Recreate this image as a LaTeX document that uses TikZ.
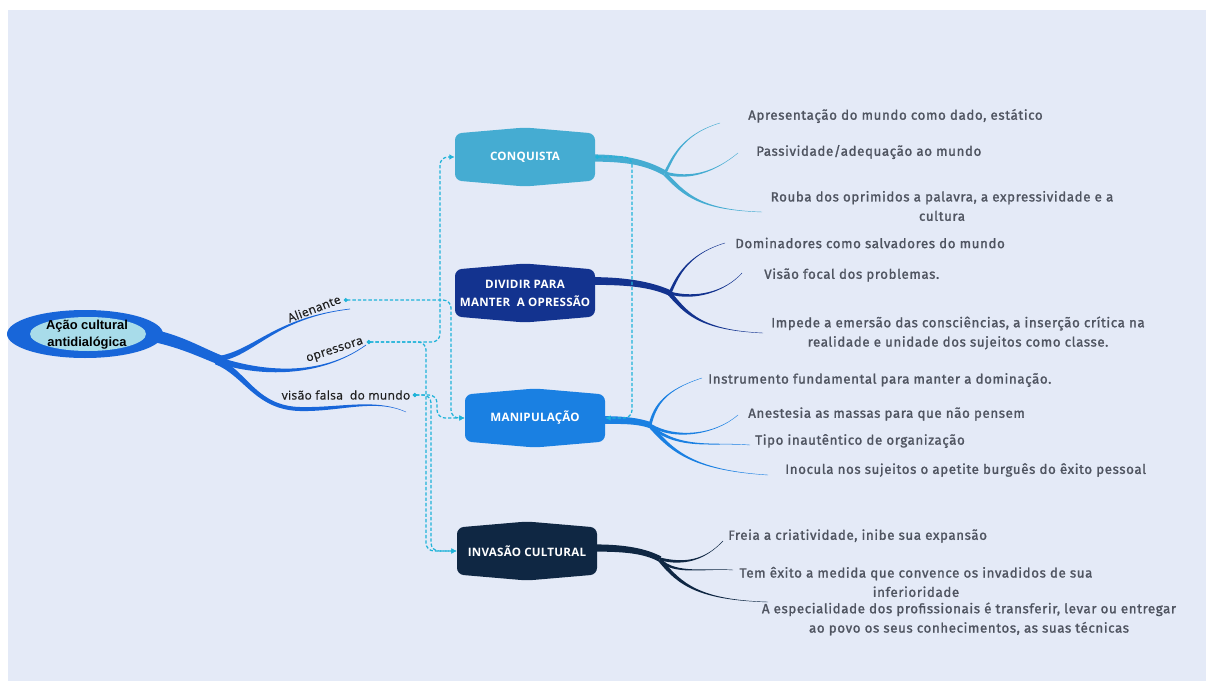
\documentclass[tikz,border=0pt]{standalone}
\usepackage{fontspec}
\setmainfont{Open Sans}
\newfontfamily\leaffont{Fira Sans}[FakeBold=1.4,LetterSpace=4.5]
\newfontfamily\topicfont{Open Sans}[LetterSpace=2]
\newfontfamily\rootfont{Liberation Sans}
\newfontfamily\brfont{Open Sans}[LetterSpace=3,FakeBold=0.6]
\usetikzlibrary{calc,arrows.meta}

\definecolor{bgc}{HTML}{E4EAF7}
\definecolor{mainc}{HTML}{1866D9}
\definecolor{innerc}{HTML}{A8DCEA}
\definecolor{conqc}{HTML}{45ACD2}
\definecolor{divc}{HTML}{13338F}
\definecolor{manc}{HTML}{1A80E2}
\definecolor{invc}{HTML}{0F2743}
\definecolor{relc}{HTML}{1FB3D9}
\definecolor{leafc}{HTML}{4F5460}

% tapered cubic branch: P0, C1, C2, P3, half width at start, half width at end, colour
\newcommand\taper[7]{%
  \fill[#7] ($#1!#5!90:#2$) .. controls ($#2!#5!-90:#1$) and ($#3!#6!90:#4$) .. ($#4!#6!-90:#3$)
    -- ($#4!#6!90:#3$) .. controls ($#3!#6!-90:#4$) and ($#2!#5!90:#1$) .. ($#1!#5!-90:#2$) -- cycle;}

% topic box: name, centre x, centre y, colour, text
\newcommand\topic[5]{%
  \fill[#4, rounded corners=5pt] (#2,#3-29.5) -- (#2+70,#3-23.5) -- (#2+70,#3+23.5)
    -- (#2,#3+29.5) -- (#2-70,#3+23.5) -- (#2-70,#3-23.5) -- cycle;
  \node[topictext] (#1) at (#2,#3) {#5};}

\tikzset{
  topictext/.style={text=white, font=\topicfont\bfseries\fontsize{8.7}{13.5}\selectfont,
    align=center, minimum width=105pt, minimum height=34.5pt, inner sep=0pt},
  leaf/.style={text=leafc, font=\leaffont\fontsize{10}{14.5}\selectfont, align=center, inner sep=0pt},
  blabel/.style={text=black!88, font=\brfont\fontsize{9}{11}\selectfont, inner sep=0pt},
  rel/.style={relc, line width=0.95pt, dash pattern=on 2.5pt off 1.5pt, rounded corners=6pt,
    {Circle[length=2.8pt]}-{Latex[length=4pt,width=4.2pt]}},
}

\begin{document}
\begin{tikzpicture}[x=0.75pt,y=-0.75pt]
\useasboundingbox (0,0) rectangle (1206,681);
\fill[white] (0,0) rectangle (1206,681);
\fill[bgc] (8,10) rectangle (1206,681);

% main branches from the central idea
\taper{(150,335)}{(180,341)}{(200,352)}{(220,360)}{4.6pt}{3.6pt}{mainc}
\taper{(218,359)}{(255,353)}{(274,318)}{(350,309)}{2.1pt}{0.25pt}{mainc}
\taper{(218,360)}{(260,374)}{(320,378)}{(366,345)}{2.3pt}{0.25pt}{mainc}
\taper{(216,361)}{(245,372)}{(255,408)}{(300,409)}{2.5pt}{1.5pt}{mainc}
\taper{(300,409)}{(340,410)}{(375,398)}{(406,412)}{1.5pt}{0.15pt}{mainc}

% central idea
\fill[mainc] (85,334) ellipse [x radius=78, y radius=24];
\fill[innerc] (88,334) ellipse [x radius=58, y radius=17];
\node[font=\rootfont\bfseries\fontsize{9.7}{12.8}\selectfont, align=center, inner sep=0pt] (root) at (87,334.5) {Ação cultural\\antidialógica};

% branch labels
\node[blabel, rotate=21] (alien) at (314,308.5) {Alienante};
\node[blabel, rotate=18] (opress) at (335,351) {opressora};
\node[blabel] (visao) at (346,395) {visão falsa\ \ do mundo};
\coordinate (alienEnd) at (344,300);
\coordinate (opEnd) at (367,342);
\coordinate (visEnd) at (413,395);

% CONQUISTA branches
\taper{(590,158)}{(625,158)}{(645,162)}{(665,173)}{2.7pt}{2pt}{conqc}
\taper{(665,173)}{(672,160)}{(680,135)}{(720,123)}{1pt}{0.15pt}{conqc}
\taper{(665,173)}{(690,180)}{(715,172)}{(738,153)}{1.1pt}{0.15pt}{conqc}
\taper{(665,174)}{(685,195)}{(700,210)}{(762,212)}{1.5pt}{0.15pt}{conqc}

% DIVIDIR branches
\taper{(592,281)}{(625,281)}{(650,284)}{(670,293)}{2.9pt}{2.1pt}{divc}
\taper{(670,293)}{(676,280)}{(685,255)}{(725,243)}{1.1pt}{0.15pt}{divc}
\taper{(670,293)}{(695,300)}{(725,292)}{(742,273)}{1.1pt}{0.15pt}{divc}
\taper{(668,292)}{(685,310)}{(695,330)}{(763,333)}{1.6pt}{0.15pt}{divc}

% MANIPULACAO branches
\taper{(602,420)}{(625,420)}{(638,421)}{(650,425)}{2.9pt}{2.3pt}{manc}
\taper{(650,425)}{(655,405)}{(665,390)}{(702,378)}{1.1pt}{0.15pt}{manc}
\taper{(650,425)}{(675,440)}{(715,435)}{(738,415)}{1.1pt}{0.15pt}{manc}
\taper{(650,426)}{(680,450)}{(710,442)}{(750,445)}{1.1pt}{0.15pt}{manc}
\taper{(650,426)}{(672,450)}{(690,470)}{(768,475)}{1.4pt}{0.15pt}{manc}

% INVASAO branches
\taper{(594,548)}{(625,548)}{(645,551)}{(660,559)}{2.7pt}{2.1pt}{invc}
\taper{(660,559)}{(685,565)}{(705,560)}{(723,541)}{1.1pt}{0.15pt}{invc}
\taper{(660,560)}{(675,575)}{(705,568)}{(733,570)}{1.1pt}{0.15pt}{invc}
\taper{(660,560)}{(680,585)}{(700,600)}{(768,602)}{1.5pt}{0.15pt}{invc}

% topics
\topic{conq}{525}{157}{conqc}{CONQUISTA}
\topic{divid}{525}{293}{divc}{DIVIDIR PARA\\MANTER\ \ A OPRESSÃO}
\topic{manip}{535}{418}{manc}{MANIPULAÇÃO}
\topic{invas}{527}{551}{invc}{INVASÃO CULTURAL}

% leaves
\node[leaf, anchor=west] (c1) at (748,116) {Apresentação do mundo como dado, estático};
\node[leaf, anchor=west] (c2) at (756,152) {Passividade/adequação ao mundo};
\node[leaf] (c3) at (942,206) {Rouba dos oprimidos a palavra, a expressividade e a\\cultura};
\node[leaf, anchor=west] (d1) at (735,243) {Dominadores como salvadores do mundo};
\node[leaf, anchor=west] (d2) at (764,275) {Visão focal dos problemas.};
\node[leaf] (d3) at (958,333) {Impede a emersão das consciências, a inserção crítica na\\realidade e unidade dos sujeitos como classe.};
\node[leaf, anchor=west] (m1) at (708,380) {Instrumento fundamental para manter a dominação.};
\node[leaf, anchor=west] (m2) at (748,414) {Anestesia as massas para que não pensem};
\node[leaf, anchor=west] (m3) at (755,441) {Tipo inautêntico de organização};
\node[leaf, anchor=west] (m4) at (785,470) {Inocula nos sujeitos o apetite burguês do êxito pessoal};
\node[leaf, anchor=west] (i1) at (728,536) {Freia a criatividade, inibe sua expansão};
\node[leaf] (i2) at (916,582) {Tem êxito a medida que convence os invadidos de sua\\inferioridade};
\node[leaf] (i3) at (969,619) {A especialidade dos profissionais é transferir, levar ou entregar\\ao povo os seus conhecimentos, as suas técnicas};

% relationships
\draw[rel] (alienEnd) -- (451,300) -- (451,418) -- (manip.west);
\draw[rel] (opEnd) -- (440,342) -- (440,157) -- (conq.west);
\draw[rel] (opEnd) -- (426,342) -- (426,551) -- (invas.west);
\draw[rel] (visEnd) -- (437,395) -- (437,418) -- (manip.west);
\draw[rel] (visEnd) -- (431,395) -- (431,551) -- (invas.west);
\draw[rel] (conq.east) -- (632,157) -- (632,418) -- (manip.east);
\end{tikzpicture}
\end{document}
